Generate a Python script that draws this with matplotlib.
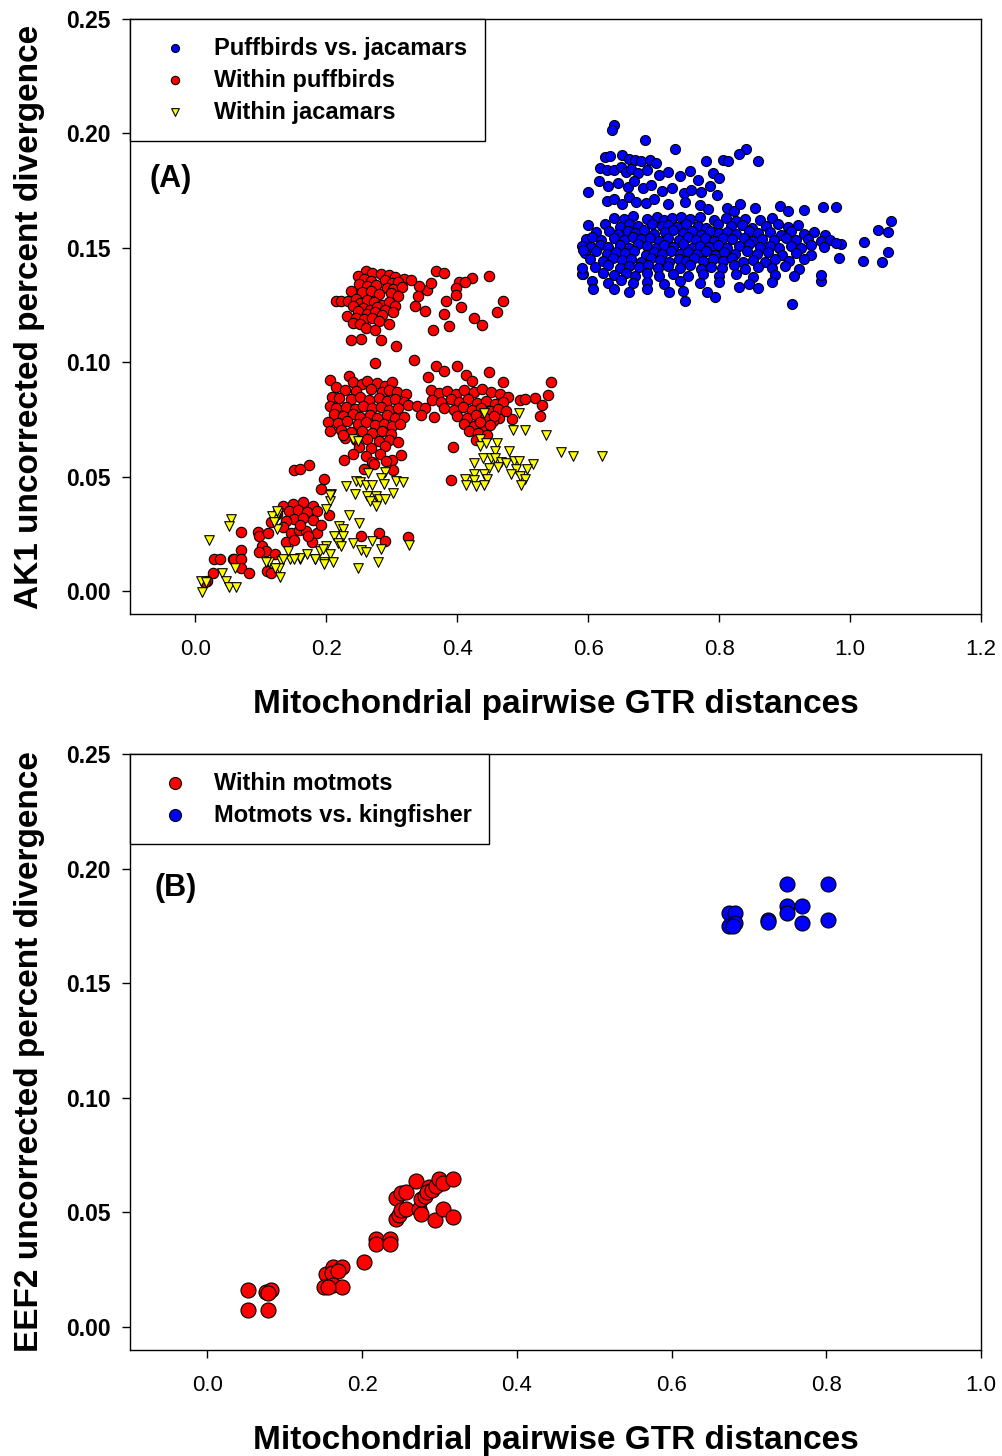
import matplotlib
matplotlib.use('Agg')
import matplotlib.pyplot as plt
import numpy as np

plt.rcParams['font.family'] = ['Liberation Sans', 'DejaVu Sans']

# ---- panel A: AK1 vs mitochondrial distance ----
puff_vs_jac = [
    (0.639, 0.2036), (0.637, 0.2014), (0.686, 0.1973), (0.733, 0.1930), (0.841, 0.1930), (0.830, 0.1908),
    (0.859, 0.1880), (0.780, 0.1880), (0.806, 0.1882), (0.814, 0.1878), (0.600, 0.1744),
    (0.625, 0.1895), (0.633, 0.1900), (0.652, 0.1905), (0.662, 0.1890), (0.672, 0.1885), (0.680, 0.1878),
    (0.695, 0.1883), (0.703, 0.1870),
    (0.618, 0.1850), (0.628, 0.1838), (0.640, 0.1842), (0.650, 0.1855), (0.657, 0.1832), (0.666, 0.1845),
    (0.676, 0.1826), (0.690, 0.1840), (0.708, 0.1818), (0.722, 0.1832), (0.740, 0.1812), (0.755, 0.1835),
    (0.768, 0.1798), (0.790, 0.1828), (0.800, 0.1806),
    (0.616, 0.1790), (0.630, 0.1772), (0.645, 0.1782), (0.660, 0.1765), (0.670, 0.1790), (0.684, 0.1760),
    (0.696, 0.1775), (0.712, 0.1748), (0.728, 0.1762), (0.746, 0.1738), (0.757, 0.1752), (0.772, 0.1745),
    (0.786, 0.1768), (0.797, 0.1730),
    (0.628, 0.1705), (0.640, 0.1712), (0.652, 0.1690), (0.663, 0.1720), (0.673, 0.1702), (0.688, 0.1695),
    (0.700, 0.1715), (0.722, 0.1690), (0.748, 0.1700), (0.770, 0.1685), (0.783, 0.1668), (0.812, 0.1672),
    (0.822, 0.1660), (0.832, 0.1690), (0.855, 0.1672), (0.893, 0.1682), (0.905, 0.1660), (0.930, 0.1665),
    (0.959, 0.1677), (0.978, 0.1680),
    (0.640, 0.1632), (0.655, 0.1625), (0.668, 0.1638), (0.690, 0.1628), (0.705, 0.1634), (0.715, 0.1622),
    (0.728, 0.1630), (0.742, 0.1636), (0.755, 0.1624), (0.770, 0.1633), (0.792, 0.1621), (0.810, 0.1630),
    (0.826, 0.1618), (0.840, 0.1628), (0.862, 0.1622), (0.880, 0.1631),
    (0.600, 0.1598), (0.625, 0.1605), (0.648, 0.1592), (0.662, 0.1603), (0.676, 0.1596), (0.698, 0.1606),
    (0.712, 0.1594), (0.722, 0.1601), (0.736, 0.1590), (0.750, 0.1604), (0.768, 0.1597), (0.780, 0.1588),
    (0.798, 0.1602), (0.818, 0.1594), (0.835, 0.1599), (0.850, 0.1587), (0.872, 0.1596), (0.890, 0.1605),
    (0.905, 0.1590), (0.920, 0.1598),
    (0.612, 0.1568), (0.632, 0.1575), (0.645, 0.1562), (0.660, 0.1572), (0.672, 0.1565), (0.685, 0.1578),
    (0.700, 0.1560), (0.718, 0.1570), (0.730, 0.1576), (0.745, 0.1563), (0.758, 0.1572), (0.772, 0.1558),
    (0.786, 0.1574), (0.800, 0.1566), (0.812, 0.1570), (0.826, 0.1560), (0.846, 0.1573), (0.860, 0.1564),
    (0.878, 0.1569), (0.895, 0.1558), (0.910, 0.1574), (0.930, 0.1562), (0.945, 0.1570), (0.962, 0.1558),
    (0.596, 0.1540), (0.606, 0.1546), (0.620, 0.1535), (0.640, 0.1544), (0.655, 0.1532), (0.668, 0.1548),
    (0.680, 0.1538), (0.694, 0.1545), (0.708, 0.1530), (0.722, 0.1542), (0.738, 0.1536), (0.752, 0.1547),
    (0.764, 0.1533), (0.778, 0.1541), (0.792, 0.1530), (0.806, 0.1545), (0.820, 0.1537), (0.838, 0.1543),
    (0.852, 0.1531), (0.866, 0.1540), (0.884, 0.1534), (0.902, 0.1545), (0.918, 0.1532), (0.935, 0.1540),
    (0.955, 0.1528), (0.970, 0.1536),
    (0.590, 0.1510), (0.604, 0.1505), (0.618, 0.1514), (0.630, 0.1502), (0.648, 0.1512), (0.662, 0.1500),
    (0.676, 0.1515), (0.690, 0.1506), (0.704, 0.1498), (0.716, 0.1513), (0.730, 0.1504), (0.744, 0.1516),
    (0.758, 0.1500), (0.770, 0.1510), (0.784, 0.1503), (0.798, 0.1514), (0.812, 0.1499), (0.830, 0.1508),
    (0.846, 0.1515), (0.862, 0.1502), (0.878, 0.1510), (0.892, 0.1497), (0.910, 0.1508), (0.925, 0.1500),
    (0.940, 0.1512), (0.960, 0.1505),
    (0.595, 0.1478), (0.612, 0.1485), (0.628, 0.1472), (0.642, 0.1483), (0.656, 0.1476), (0.670, 0.1488),
    (0.688, 0.1470), (0.700, 0.1482), (0.712, 0.1475), (0.726, 0.1486), (0.740, 0.1471), (0.752, 0.1480),
    (0.766, 0.1474), (0.780, 0.1485), (0.794, 0.1470), (0.808, 0.1482), (0.824, 0.1475), (0.842, 0.1486),
    (0.858, 0.1472), (0.874, 0.1480), (0.896, 0.1468), (0.918, 0.1478), (0.940, 0.1470),
    (0.603, 0.1450), (0.622, 0.1442), (0.638, 0.1455), (0.652, 0.1445), (0.665, 0.1452), (0.680, 0.1440),
    (0.696, 0.1454), (0.710, 0.1446), (0.724, 0.1438), (0.738, 0.1452), (0.750, 0.1443), (0.762, 0.1456),
    (0.776, 0.1441), (0.790, 0.1450), (0.806, 0.1444), (0.820, 0.1455), (0.836, 0.1438), (0.852, 0.1448),
    (0.870, 0.1440), (0.886, 0.1452), (0.906, 0.1442), (0.930, 0.1450),
    (0.610, 0.1418), (0.630, 0.1425), (0.648, 0.1412), (0.662, 0.1422), (0.678, 0.1415), (0.692, 0.1426),
    (0.706, 0.1410), (0.722, 0.1420), (0.740, 0.1413), (0.756, 0.1424), (0.772, 0.1409), (0.788, 0.1418),
    (0.804, 0.1412), (0.822, 0.1423), (0.840, 0.1408), (0.860, 0.1417), (0.880, 0.1410), (0.900, 0.1420),
    (0.922, 0.1408),
    (0.592, 0.1386), (0.622, 0.1392), (0.640, 0.1380), (0.657, 0.1390), (0.672, 0.1378), (0.690, 0.1388),
    (0.708, 0.1376), (0.730, 0.1386), (0.752, 0.1375), (0.775, 0.1384), (0.800, 0.1378), (0.826, 0.1386),
    (0.852, 0.1374), (0.885, 0.1382), (0.915, 0.1376),
    (0.605, 0.1355), (0.630, 0.1348), (0.650, 0.1358), (0.668, 0.1345), (0.690, 0.1352), (0.715, 0.1342),
    (0.740, 0.1355), (0.770, 0.1346), (0.800, 0.1350), (0.845, 0.1344), (0.880, 0.1352), (0.955, 0.1353),
    (0.955, 0.1380), (0.983, 0.1457), (0.912, 0.1255), (0.748, 0.1266), (0.794, 0.1283), (0.782, 0.1306),
    (0.724, 0.1309), (0.744, 0.1310), (0.663, 0.1306), (0.608, 0.1320), (0.591, 0.1386), (0.590, 0.1410),
    (0.592, 0.1490), (0.640, 0.1318), (0.690, 0.1322), (0.830, 0.1330), (0.860, 0.1325),
    (1.063, 0.1619), (1.043, 0.1578), (1.058, 0.1570), (1.021, 0.1527), (1.020, 0.1444), (1.049, 0.1440),
    (1.058, 0.1483), (0.986, 0.1515), (0.978, 0.1520),
]

within_puff = [
    (0.261, 0.1400), (0.248, 0.1378), (0.270, 0.1390), (0.283, 0.1385), (0.296, 0.1380), (0.305, 0.1372),
    (0.318, 0.1365), (0.258, 0.1362), (0.268, 0.1355), (0.290, 0.1358), (0.300, 0.1345), (0.310, 0.1350),
    (0.250, 0.1340), (0.262, 0.1332), (0.276, 0.1338), (0.292, 0.1325), (0.302, 0.1318), (0.315, 0.1330),
    (0.238, 0.1310), (0.255, 0.1305), (0.268, 0.1312), (0.280, 0.1298), (0.298, 0.1302), (0.310, 0.1290),
    (0.215, 0.1266), (0.223, 0.1266), (0.233, 0.1266), (0.245, 0.1275), (0.252, 0.1258), (0.262, 0.1270),
    (0.272, 0.1262), (0.285, 0.1250), (0.296, 0.1265), (0.305, 0.1245), (0.240, 0.1245), (0.256, 0.1238),
    (0.266, 0.1230), (0.278, 0.1242), (0.290, 0.1228), (0.302, 0.1220), (0.248, 0.1222), (0.262, 0.1212),
    (0.274, 0.1220), (0.285, 0.1205), (0.232, 0.1200), (0.245, 0.1195), (0.258, 0.1188), (0.270, 0.1195),
    (0.240, 0.1172), (0.252, 0.1165), (0.280, 0.1178), (0.296, 0.1168), (0.260, 0.1150), (0.275, 0.1140),
    (0.253, 0.1100), (0.237, 0.1095), (0.284, 0.1098), (0.307, 0.1070),
    (0.367, 0.1400), (0.380, 0.1390), (0.448, 0.1375), (0.422, 0.1367), (0.402, 0.1349), (0.412, 0.1352),
    (0.398, 0.1324), (0.398, 0.1295), (0.470, 0.1268), (0.461, 0.1218), (0.426, 0.1193), (0.438, 0.1164),
    (0.387, 0.1160), (0.363, 0.1140), (0.405, 0.1240), (0.379, 0.1210), (0.383, 0.1268), (0.354, 0.1317),
    (0.341, 0.1334), (0.336, 0.1247), (0.351, 0.1226), (0.330, 0.1360), (0.340, 0.1290), (0.360, 0.1345),
    (0.334, 0.1010), (0.275, 0.0997), (0.205, 0.0924), (0.235, 0.0939), (0.240, 0.0915), (0.255, 0.0905),
    (0.262, 0.0920), (0.278, 0.0910), (0.290, 0.0898), (0.300, 0.0915), (0.215, 0.0890), (0.228, 0.0880),
    (0.245, 0.0875), (0.268, 0.0885), (0.285, 0.0870), (0.296, 0.0880), (0.308, 0.0870), (0.321, 0.0863),
    (0.208, 0.0850), (0.220, 0.0845), (0.238, 0.0838), (0.252, 0.0848), (0.265, 0.0835), (0.280, 0.0842),
    (0.292, 0.0830), (0.305, 0.0838), (0.318, 0.0825), (0.325, 0.0815), (0.338, 0.0808), (0.205, 0.0810),
    (0.215, 0.0800), (0.230, 0.0805), (0.243, 0.0795), (0.256, 0.0808), (0.270, 0.0798), (0.283, 0.0805),
    (0.296, 0.0790), (0.310, 0.0800), (0.212, 0.0772), (0.225, 0.0765), (0.240, 0.0775), (0.252, 0.0760),
    (0.266, 0.0770), (0.278, 0.0758), (0.292, 0.0768), (0.305, 0.0755), (0.318, 0.0760), (0.203, 0.0740),
    (0.218, 0.0735), (0.232, 0.0742), (0.248, 0.0730), (0.260, 0.0738), (0.274, 0.0725), (0.288, 0.0732),
    (0.300, 0.0720), (0.312, 0.0728), (0.205, 0.0700), (0.222, 0.0705), (0.238, 0.0695), (0.255, 0.0700),
    (0.270, 0.0690), (0.285, 0.0698), (0.298, 0.0685), (0.228, 0.0668), (0.245, 0.0660), (0.262, 0.0665),
    (0.280, 0.0655), (0.295, 0.0660), (0.250, 0.0630), (0.268, 0.0625), (0.290, 0.0635), (0.240, 0.0600),
    (0.260, 0.0590), (0.282, 0.0600), (0.270, 0.0565), (0.300, 0.0575), (0.225, 0.0680), (0.310, 0.0650),
    (0.301, 0.0529), (0.258, 0.0532), (0.272, 0.0554), (0.291, 0.0568), (0.314, 0.0593), (0.227, 0.0571),
    (0.368, 0.0985), (0.400, 0.0982), (0.355, 0.0934), (0.380, 0.0960), (0.413, 0.0944), (0.423, 0.0917),
    (0.448, 0.0956), (0.470, 0.0912), (0.543, 0.0915), (0.539, 0.0856), (0.519, 0.0844), (0.495, 0.0834),
    (0.503, 0.0840), (0.529, 0.0815), (0.526, 0.0764), (0.484, 0.0750), (0.464, 0.0757), (0.455, 0.0742),
    (0.440, 0.0702), (0.393, 0.0629), (0.390, 0.0485), (0.360, 0.0880), (0.372, 0.0865), (0.385, 0.0875),
    (0.398, 0.0860), (0.410, 0.0880), (0.425, 0.0868), (0.438, 0.0885), (0.452, 0.0872), (0.465, 0.0860),
    (0.478, 0.0850), (0.362, 0.0835), (0.375, 0.0828), (0.390, 0.0840), (0.403, 0.0825), (0.416, 0.0838),
    (0.430, 0.0822), (0.444, 0.0830), (0.458, 0.0818), (0.470, 0.0825), (0.380, 0.0800), (0.395, 0.0790),
    (0.408, 0.0805), (0.422, 0.0792), (0.436, 0.0800), (0.450, 0.0788), (0.462, 0.0795), (0.475, 0.0785),
    (0.400, 0.0765), (0.415, 0.0758), (0.428, 0.0770), (0.442, 0.0755), (0.456, 0.0765), (0.410, 0.0730),
    (0.425, 0.0722), (0.435, 0.0740), (0.450, 0.0725), (0.418, 0.0700), (0.432, 0.0690), (0.446, 0.0680),
    (0.428, 0.0660), (0.350, 0.0800), (0.345, 0.0770), (0.365, 0.0760),
    (0.133, 0.0372), (0.149, 0.0379), (0.164, 0.0389), (0.179, 0.0372), (0.143, 0.0350), (0.157, 0.0355),
    (0.170, 0.0345), (0.185, 0.0350), (0.151, 0.0314), (0.165, 0.0318), (0.180, 0.0310), (0.138, 0.0306),
    (0.133, 0.0278), (0.146, 0.0256), (0.158, 0.0268), (0.169, 0.0263), (0.185, 0.0256), (0.138, 0.0215),
    (0.150, 0.0222), (0.178, 0.0215), (0.204, 0.0331), (0.192, 0.0290), (0.160, 0.0290), (0.172, 0.0240),
    (0.150, 0.0527), (0.173, 0.0549), (0.197, 0.0488), (0.192, 0.0448), (0.160, 0.0535),
    (0.069, 0.0258), (0.095, 0.0259), (0.097, 0.0241), (0.111, 0.0253), (0.253, 0.0241), (0.280, 0.0256),
    (0.290, 0.0217), (0.324, 0.0238), (0.102, 0.0198), (0.108, 0.0175), (0.097, 0.0171), (0.121, 0.0161),
    (0.070, 0.0179), (0.057, 0.0142), (0.028, 0.0142), (0.037, 0.0139), (0.059, 0.0142), (0.069, 0.0139),
    (0.070, 0.0099), (0.027, 0.0081), (0.082, 0.0081), (0.110, 0.0088), (0.116, 0.0078), (0.017, 0.0045),
    (0.014, 0.0040), (0.115, 0.0300), (0.125, 0.0335),
]

within_jac = [
    (0.440, 0.0779), (0.494, 0.0779), (0.485, 0.0703), (0.504, 0.0703), (0.535, 0.0680), (0.558, 0.0609),
    (0.576, 0.0590), (0.621, 0.0590), (0.434, 0.0666), (0.434, 0.0634), (0.444, 0.0648), (0.460, 0.0648),
    (0.458, 0.0612), (0.479, 0.0612), (0.439, 0.0580), (0.426, 0.0558), (0.451, 0.0583), (0.457, 0.0580),
    (0.467, 0.0564), (0.475, 0.0558), (0.487, 0.0568), (0.494, 0.0568), (0.515, 0.0554), (0.507, 0.0535),
    (0.448, 0.0539), (0.462, 0.0544), (0.490, 0.0535), (0.426, 0.0510), (0.441, 0.0510), (0.482, 0.0510),
    (0.495, 0.0503), (0.504, 0.0491), (0.411, 0.0488), (0.426, 0.0485), (0.445, 0.0488), (0.413, 0.0462),
    (0.429, 0.0459), (0.441, 0.0462), (0.497, 0.0462),
    (0.240, 0.0663), (0.248, 0.0655), (0.263, 0.0514), (0.289, 0.0520), (0.245, 0.0481), (0.230, 0.0459),
    (0.252, 0.0478), (0.261, 0.0462), (0.270, 0.0462), (0.284, 0.0493), (0.288, 0.0470), (0.306, 0.0481),
    (0.317, 0.0476), (0.301, 0.0430), (0.243, 0.0423), (0.262, 0.0415), (0.276, 0.0415), (0.281, 0.0401),
    (0.290, 0.0401), (0.267, 0.0394), (0.276, 0.0372), (0.207, 0.0423), (0.205, 0.0394), (0.234, 0.0331),
    (0.250, 0.0299), (0.219, 0.0285), (0.226, 0.0270), (0.225, 0.0241), (0.212, 0.0241), (0.200, 0.0198),
    (0.217, 0.0210), (0.222, 0.0198), (0.240, 0.0212), (0.253, 0.0180), (0.261, 0.0170), (0.270, 0.0219),
    (0.284, 0.0183), (0.279, 0.0125), (0.326, 0.0200), (0.205, 0.0161), (0.210, 0.0125), (0.197, 0.0125),
    (0.182, 0.0139), (0.159, 0.0142), (0.144, 0.0139), (0.131, 0.0132), (0.113, 0.0125), (0.128, 0.0103),
    (0.248, 0.0099), (0.123, 0.0314), (0.126, 0.0343), (0.055, 0.0314), (0.052, 0.0285), (0.020, 0.0224),
    (0.206, 0.0420), (0.200, 0.0357), (0.117, 0.0328), (0.125, 0.0350), (0.125, 0.0270), (0.120, 0.0300),
    (0.159, 0.0146), (0.182, 0.0139), (0.190, 0.0176), (0.195, 0.0185), (0.197, 0.0118), (0.129, 0.0060),
    (0.122, 0.0103), (0.108, 0.0125), (0.061, 0.0103), (0.041, 0.0077), (0.046, 0.0045), (0.052, 0.0020),
    (0.062, 0.0020), (0.008, 0.0045), (0.010, -0.0003), (0.016, 0.0038), (0.141, 0.0176), (0.133, 0.0139),
    (0.150, 0.0139), (0.170, 0.0160),
]

# ---- panel B: EEF2 vs mitochondrial distance ----
within_motmots = [
    (0.052, 0.0161), (0.052, 0.0075), (0.079, 0.0075), (0.076, 0.0151), (0.082, 0.0161), (0.079, 0.0148),
    (0.153, 0.0231), (0.162, 0.0260), (0.174, 0.0260), (0.161, 0.0238), (0.169, 0.0245),
    (0.151, 0.0173), (0.162, 0.0183), (0.174, 0.0173), (0.156, 0.0175),
    (0.202, 0.0286), (0.218, 0.0383), (0.218, 0.0361), (0.236, 0.0383), (0.236, 0.0361),
    (0.244, 0.0565), (0.250, 0.0585), (0.257, 0.0591), (0.244, 0.0470), (0.248, 0.0490), (0.250, 0.0510),
    (0.257, 0.0517), (0.270, 0.0637), (0.274, 0.0514), (0.276, 0.0492), (0.276, 0.0557), (0.281, 0.0570),
    (0.287, 0.0610), (0.284, 0.0590), (0.290, 0.0600), (0.296, 0.0615), (0.300, 0.0648), (0.304, 0.0630),
    (0.294, 0.0466), (0.305, 0.0517), (0.317, 0.0645), (0.317, 0.0480),
]

motmots_vs_kingfisher = [
    (0.749, 0.1934), (0.802, 0.1934), (0.749, 0.1838), (0.749, 0.1806), (0.769, 0.1835), (0.769, 0.1763),
    (0.802, 0.1777), (0.725, 0.1777), (0.725, 0.1768), (0.674, 0.1806), (0.682, 0.1806), (0.674, 0.1751),
    (0.682, 0.1763), (0.680, 0.1750),
]

xlabel = 'Mitochondrial pairwise GTR distances'


def style_axes(ax, xlim, xticks):
    ax.set_xlim(*xlim)
    ax.set_ylim(-0.01, 0.25)
    ax.set_xticks(xticks)
    ax.set_xticklabels([f'{t:.1f}' for t in xticks], fontsize=16)
    yt = [0.0, 0.05, 0.10, 0.15, 0.20, 0.25]
    ax.set_yticks(yt)
    ax.set_yticklabels([f'{t:.2f}' for t in yt], fontsize=16.5, fontweight='bold')
    ax.tick_params(direction='out', length=6, width=1)
    ax.tick_params(axis='x', pad=12)
    ax.tick_params(axis='y', pad=8)
    for s in ax.spines.values():
        s.set_linewidth(1)


def add_legend(ax, scale):
    leg = ax.legend(loc='upper left', bbox_to_anchor=(0, 1), borderaxespad=0, fancybox=False,
                    edgecolor='black', framealpha=1, markerscale=scale, handletextpad=0.5,
                    borderpad=0.75, labelspacing=0.38, handlelength=2.3,
                    prop={'weight': 'bold', 'size': 17})
    leg.get_frame().set_linewidth(1)
    return leg


fig = plt.figure(figsize=(10.03, 14.56), dpi=100)

ax1 = fig.add_axes([0.1296, 0.5783, 0.8485, 0.4087])
pj = np.array(puff_vs_jac)
wp = np.array(within_puff)
wj = np.array(within_jac)
ax1.scatter(pj[:, 0], pj[:, 1], s=52, c='#0000ff', edgecolors='black', linewidths=0.8,
            label='Puffbirds vs. jacamars', zorder=3)
ax1.scatter(wp[:, 0], wp[:, 1], s=56, c='#ff0000', edgecolors='black', linewidths=0.8,
            label='Within puffbirds', zorder=3)
ax1.scatter(wj[:, 0], wj[:, 1], s=48, marker='v', c='#ffff00', edgecolors='black', linewidths=0.8,
            label='Within jacamars', zorder=3)
style_axes(ax1, (-0.1, 1.2), [0.0, 0.2, 0.4, 0.6, 0.8, 1.0, 1.2])
ax1.set_ylabel('AK1 uncorrected percent divergence', fontsize=24, fontweight='bold', labelpad=15)
ax1.set_xlabel(xlabel, fontsize=24, fontweight='bold', labelpad=21)
ax1.text(-0.0695, 0.18, '(A)', fontsize=22, fontweight='bold', va='center', ha='left')
add_legend(ax1, 0.8)

ax2 = fig.add_axes([0.1296, 0.0728, 0.8485, 0.4094])
mm = np.array(within_motmots)
mk = np.array(motmots_vs_kingfisher)
ax2.scatter(mm[:, 0], mm[:, 1], s=117, c='#ff0000', edgecolors='black', linewidths=0.8,
            label='Within motmots', zorder=3)
ax2.scatter(mk[:, 0], mk[:, 1], s=117, c='#0000ff', edgecolors='black', linewidths=0.8,
            label='Motmots vs. kingfisher', zorder=3)
style_axes(ax2, (-0.1, 1.0), [0.0, 0.2, 0.4, 0.6, 0.8, 1.0])
ax2.set_ylabel('EEF2 uncorrected percent divergence', fontsize=24, fontweight='bold', labelpad=15)
ax2.set_xlabel(xlabel, fontsize=24, fontweight='bold', labelpad=21)
ax2.text(-0.0686, 0.1916, '(B)', fontsize=22, fontweight='bold', va='center', ha='left')
add_legend(ax2, 0.8)

fig.savefig('out.png', dpi=100)
